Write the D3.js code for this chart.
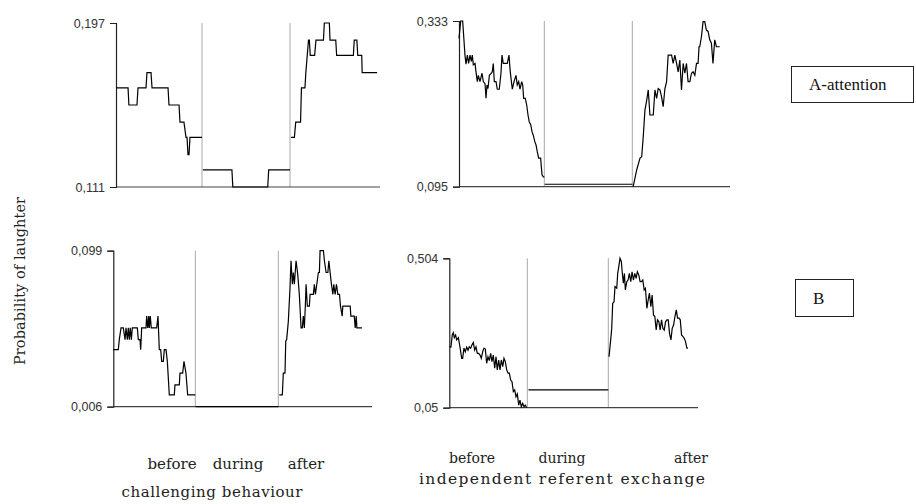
<!DOCTYPE html>
<html>
<head>
<meta charset="utf-8">
<script src="https://cdn.jsdelivr.net/npm/d3@7"></script>
<style>
  body { margin: 0; background: #fff; }
  svg { display: block; }
</style>
</head>
<body>
<svg id="chart" width="916" height="504"></svg>
<script>
// Phases of each episode; time runs 0-100 before, 100-200 during, 200-300 after.
const phases = ["before", "during", "after"];
const contexts = ["challenging behaviour", "independent referent exchange"];
const groups = ["A-attention", "B"];

// Probability of laughter over time, [time, probability].
const attentionChallenging = [
  [0,0.163],[14,0.163],[15,0.154],[24.4,0.154],[25.6,0.163],[34.9,0.163],[36,0.171],[40.7,0.171],
  [41.9,0.163],[60.5,0.163],[61.6,0.154],[73.3,0.154],[74.4,0.145],[79,0.145],[81.4,0.137],[82.6,0.137],
  [83.7,0.128],[84.9,0.128],[86,0.137],[100,0.137],
  [101,0.120],[134,0.120],[135,0.111],[174.7,0.111],[175.8,0.120],[200,0.120],
  [201,0.137],[205,0.137],[206.5,0.145],[212,0.145],[213,0.163],[217,0.163],[218,0.171],[221,0.188],
  [222,0.188],[223,0.180],[228,0.180],[229.5,0.188],[238,0.188],[239,0.197],[244.7,0.197],[245.5,0.188],
  [252,0.188],[253,0.180],[272,0.180],[273,0.188],[276,0.188],[277,0.180],[281.5,0.180],[282,0.171],[299,0.171]
];

const attentionReferent = [
  [0,0.308],[2,0.333],[4.3,0.333],[7,0.284],[8.2,0.271],[9.8,0.284],[11.3,0.272],[12.9,0.284],[14.5,0.275],
  [15.6,0.284],[16.8,0.270],[18.8,0.272],[19.9,0.260],[21.5,0.246],[22.7,0.255],[24.6,0.246],[27,0.258],
  [28.5,0.246],[30.5,0.243],[31.7,0.222],[32.8,0.241],[34,0.236],[35.6,0.255],[37.9,0.258],[39,0.260],
  [40.2,0.272],[41.4,0.246],[43.4,0.246],[44.9,0.235],[47.2,0.235],[49.2,0.258],[50.4,0.284],[51.9,0.272],
  [56.6,0.272],[58.6,0.284],[60.1,0.260],[62.5,0.235],[64.5,0.246],[66.8,0.255],[68.3,0.241],[70,0.246],
  [71.5,0.235],[73.5,0.246],[74.7,0.241],[75.8,0.222],[77.7,0.222],[79.4,0.212],[80.9,0.198],[82.4,0.188],
  [84.1,0.184],[85.6,0.174],[87.1,0.169],[88.8,0.160],[90.3,0.155],[91.8,0.145],[93.4,0.136],[95.7,0.136],
  [97.3,0.112],[98.9,0.109],[100,0.109],
  [100.5,0.0985],[200,0.0985],
  [201,0.095],[205,0.119],[208.8,0.136],[210.7,0.138],[212.5,0.167],[214.4,0.205],[216.4,0.219],[218.2,0.234],
  [220.1,0.198],[223.9,0.198],[225.8,0.234],[227.7,0.222],[229.5,0.236],[231.5,0.234],[233.4,0.224],
  [235.2,0.210],[237.2,0.236],[239.1,0.246],[240.9,0.284],[244.8,0.284],[246.6,0.272],[248.5,0.284],
  [250.5,0.272],[252.3,0.260],[254.2,0.277],[256.1,0.234],[258,0.272],[259.9,0.258],[261.8,0.272],
  [263.6,0.246],[265.6,0.246],[267.5,0.258],[269.3,0.260],[271.3,0.255],[273.2,0.272],[275,0.272],
  [276.1,0.296],[276.9,0.296],[278.8,0.310],[280.7,0.332],[282.6,0.332],[284.5,0.320],[286.4,0.318],
  [288.3,0.306],[290.2,0.301],[292,0.272],[294,0.306],[295.9,0.296],[299.7,0.296]
];

const groupBChallenging = [
  [0,0.040],[6.1,0.040],[7.3,0.046],[9.4,0.053],[12.2,0.053],[14.3,0.046],[15.5,0.053],[17.1,0.046],
  [18.3,0.053],[19.5,0.046],[20.7,0.053],[22,0.046],[23.2,0.053],[29.3,0.053],[30.5,0.046],[32.6,0.046],
  [33.4,0.040],[34.6,0.053],[39.9,0.053],[40.7,0.060],[42,0.053],[43.2,0.060],[43.9,0.053],[45.1,0.060],
  [46.3,0.053],[52.9,0.053],[54.5,0.060],[56.1,0.040],[57.8,0.040],[59,0.033],[61,0.033],[62.2,0.040],
  [64.3,0.040],[65.9,0.033],[68.3,0.013],[74.4,0.013],[75.2,0.019],[80.5,0.019],[81.3,0.026],[84.6,0.026],
  [86.2,0.033],[88.6,0.026],[90.7,0.013],[100,0.013],
  [100.5,0.006],[200,0.006],
  [201.2,0.013],[204.8,0.013],[206,0.026],[208,0.026],[208.9,0.045],[210,0.046],[212,0.057],[214,0.077],
  [215.2,0.093],[216.8,0.079],[218,0.086],[219.2,0.079],[221.2,0.093],[223.2,0.085],[225.1,0.073],
  [227.2,0.053],[228.7,0.053],[229.9,0.060],[231.1,0.053],[232.3,0.066],[233.2,0.079],[234.7,0.066],
  [237.1,0.066],[238,0.073],[241.9,0.073],[243.1,0.079],[244.3,0.073],[246,0.079],[247.9,0.086],
  [249.1,0.086],[249.9,0.099],[253.9,0.099],[255.1,0.093],[257.1,0.086],[259.2,0.086],[260.4,0.093],
  [261.9,0.086],[263.5,0.079],[265.2,0.073],[266.3,0.079],[267.9,0.073],[269.5,0.079],[271.1,0.073],
  [273.1,0.073],[274.3,0.066],[276.3,0.060],[277.1,0.066],[285.9,0.066],[286.7,0.060],[290.7,0.060],
  [291.9,0.053],[293.1,0.060],[293.9,0.053],[299.9,0.053]
];

const groupBReferent = [
  [0,0.235],[2.1,0.234],[3.8,0.271],[5.1,0.278],[6.4,0.263],[8.1,0.271],[9.4,0.256],[11.6,0.263],
  [13.7,0.234],[15.9,0.200],[17.1,0.200],[18.8,0.231],[20.5,0.220],[22.3,0.234],[24,0.225],[25.6,0.235],
  [27.4,0.231],[29.1,0.241],[30.8,0.248],[32.5,0.225],[34.2,0.235],[35.9,0.215],[37.7,0.215],[39.4,0.210],
  [41,0.200],[42.8,0.220],[44.5,0.231],[46.2,0.228],[47.9,0.185],[49.6,0.205],[51.3,0.193],[53,0.215],
  [54.7,0.190],[56.4,0.210],[58.2,0.170],[59.9,0.205],[61.5,0.165],[63.3,0.195],[65,0.165],[66.7,0.195],
  [68.5,0.175],[70.1,0.200],[71.8,0.190],[73.6,0.165],[75.3,0.155],[76.9,0.155],[78.7,0.134],[80.4,0.129],
  [82.1,0.099],[83.8,0.104],[85.5,0.083],[87.2,0.092],[89,0.058],[90.6,0.073],[92.3,0.053],[94.1,0.063],
  [95.8,0.053],[97.4,0.058],[99.2,0.050],
  [101.5,0.104],[200,0.104],
  [200.9,0.205],[203,0.256],[204.3,0.291],[205.5,0.367],[207.2,0.372],[208.4,0.418],[210.6,0.413],
  [211.8,0.458],[213.1,0.478],[214.7,0.504],[216.4,0.494],[217.6,0.458],[218.9,0.428],[220.2,0.458],
  [221.4,0.408],[223.2,0.433],[224.8,0.438],[226.4,0.458],[228.2,0.433],[229.8,0.463],[231.5,0.438],
  [233.2,0.458],[234.9,0.443],[236.5,0.463],[238.3,0.453],[239.9,0.433],[241.6,0.433],[243.3,0.438],
  [245,0.408],[246.6,0.413],[248.4,0.352],[250,0.377],[251.6,0.398],[253.4,0.357],[255,0.392],
  [256.7,0.332],[258.4,0.327],[260.1,0.286],[261.7,0.317],[263.5,0.311],[265.1,0.286],[266.8,0.317],
  [268.5,0.291],[270.2,0.286],[271.8,0.311],[273.6,0.317],[275.2,0.317],[276.8,0.276],[278.6,0.256],
  [280.2,0.291],[281.9,0.301],[283.6,0.327],[285.3,0.347],[286.9,0.322],[288.7,0.322],[290.3,0.317],
  [291.9,0.271],[293.7,0.266],[295.3,0.261],[296.9,0.251],[298.6,0.231],[299.9,0.231]
];

// Y-axis extremes per panel and their printed labels.
const attentionChallengingTicks = [0.111, 0.197];
const attentionReferentTicks = [0.095, 0.333];
const groupBChallengingTicks = [0.006, 0.099];
const groupBReferentTicks = [0.05, 0.504];
const attentionChallengingLabels = ["0,111", "0,197"];
const attentionReferentLabels = ["0,095", "0,333"];
const groupBChallengingLabels = ["0,006", "0,099"];
const groupBReferentLabels = ["0,05", "0,504"];

// Panel placement on the page.
const panels = [
  { data: attentionChallenging, ticks: attentionChallengingTicks, labels: attentionChallengingLabels,
    xr: [116, 202, 290, 378], axisEnd: 380, yr: [187, 23] },
  { data: attentionReferent, ticks: attentionReferentTicks, labels: attentionReferentLabels,
    xr: [459, 544.3, 632.3, 720], axisEnd: 730, yr: [186.7, 21] },
  { data: groupBChallenging, ticks: groupBChallengingTicks, labels: groupBChallengingLabels,
    xr: [113.3, 195.3, 278.3, 362], axisEnd: 372, yr: [406.7, 250.7] },
  { data: groupBReferent, ticks: groupBReferentTicks, labels: groupBReferentLabels,
    xr: [449.3, 527.3, 608.3, 688], axisEnd: 698, yr: [407.7, 258.3] }
];

const svg = d3.select("#chart");
const phaseOf = t => (t <= 100 ? 0 : t <= 200 ? 1 : 2);

panels.forEach(p => {
  const x = d3.scaleLinear().domain([0, 100, 200, 300]).range(p.xr);
  const y = d3.scaleLinear().domain(p.ticks).range(p.yr);
  const g = svg.append("g");

  // phase dividers
  g.selectAll("line.divider").data([100, 200]).join("line")
    .attr("class", "divider")
    .attr("x1", d => x(d)).attr("x2", d => x(d))
    .attr("y1", p.yr[1]).attr("y2", p.yr[0])
    .attr("stroke", "#a8a8a8").attr("stroke-width", 1);

  // x baseline
  g.append("line")
    .attr("x1", p.xr[0]).attr("x2", p.axisEnd)
    .attr("y1", p.yr[0]).attr("y2", p.yr[0])
    .attr("stroke", "#444").attr("stroke-width", 1.2);

  // y axis with its two end ticks
  const yAxis = d3.axisLeft(y)
    .tickValues(p.ticks)
    .tickFormat((d, i) => p.labels[i])
    .tickSize(6).tickPadding(5);
  const ya = g.append("g").attr("transform", `translate(${p.xr[0]},0)`).call(yAxis);
  ya.select(".domain").attr("stroke", "#222").attr("stroke-width", 1.2);
  ya.selectAll(".tick line").attr("stroke", "#222");
  ya.selectAll(".tick text")
    .attr("fill", "#333")
    .style("font-family", "'Liberation Sans', Arial, sans-serif")
    .style("font-size", "12.5px");

  // laughter probability, one path per phase
  const line = d3.line().x(d => x(d[0])).y(d => y(d[1]));
  const byPhase = phases.map((_, i) => p.data.filter(d => phaseOf(d[0]) === i));
  g.selectAll("path.trace").data(byPhase).join("path")
    .attr("class", "trace")
    .attr("d", line)
    .attr("fill", "none")
    .attr("stroke", "#000")
    .attr("stroke-width", 1.2)
    .attr("stroke-linejoin", "miter");
});

// axis title
const serif = "'DejaVu Serif', 'Liberation Serif', serif";
svg.append("text")
  .attr("transform", "translate(25,281) rotate(-90)")
  .attr("text-anchor", "middle")
  .attr("textLength", 168).attr("lengthAdjust", "spacing")
  .style("font-family", serif).style("font-size", "14.5px").attr("fill", "#222")
  .text("Probability of laughter");

// phase labels under each column
const phaseLabelPos = [
  { xs: [172, 238, 306], y: 469, fs: 15, title: contexts[0], tx: 212, ty: 497, tfs: 15, tw: 181 },
  { xs: [472, 562, 691], y: 463, fs: 14, title: contexts[1], tx: 562, ty: 484, tfs: 15.5, tw: 286 }
];
phaseLabelPos.forEach(c => {
  svg.append("g").selectAll("text").data(phases).join("text")
    .attr("x", (d, i) => c.xs[i]).attr("y", c.y)
    .attr("text-anchor", "middle")
    .style("font-family", serif).style("font-size", c.fs + "px").attr("fill", "#222")
    .text(d => d);
  svg.append("text")
    .attr("x", c.tx).attr("y", c.ty)
    .attr("text-anchor", "middle")
    .attr("textLength", c.tw).attr("lengthAdjust", "spacing")
    .style("font-family", serif).style("font-size", c.tfs + "px").attr("fill", "#222")
    .text(c.title);
});

// group boxes
const boxes = [
  { x: 791, y: 66, w: 122, h: 36, label: groups[0] },
  { x: 795, y: 279, w: 58, h: 37, label: groups[1] }
];
boxes.forEach(b => {
  svg.append("rect")
    .attr("x", b.x + 0.5).attr("y", b.y + 0.5).attr("width", b.w).attr("height", b.h)
    .attr("fill", "#fff").attr("stroke", "#222").attr("stroke-width", 1);
  svg.append("text")
    .attr("x", b.x + 18).attr("y", b.y + b.h / 2 + 6)
    .style("font-family", "'Liberation Serif', 'Times New Roman', serif").style("font-size", "17px")
    .attr("fill", "#111")
    .text(b.label);
});
</script>
</body>
</html>
